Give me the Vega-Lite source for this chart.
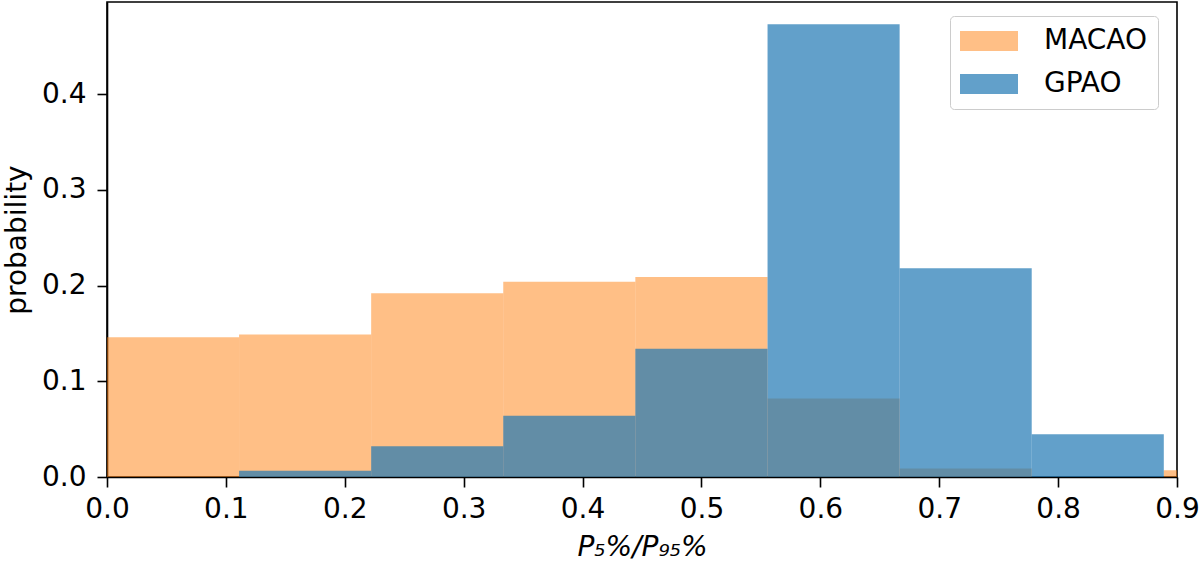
{
  "$schema": "https://vega.github.io/schema/vega-lite/v6.json",
  "width": 1070,
  "height": 475,
  "autosize": {"type": "none"},
  "padding": {"left": 107, "top": 2, "right": 23, "bottom": 88},
  "background": "white",
  "config": {
    "font": "DejaVu Sans",
    "view": {"stroke": "black", "strokeWidth": 1.6},
    "axis": {
      "labelFont": "DejaVu Sans",
      "titleFont": "DejaVu Sans",
      "labelFontSize": 28,
      "titleFontSize": 28,
      "labelColor": "black",
      "titleColor": "black",
      "titleFontWeight": "normal",
      "domainColor": "black",
      "domainWidth": 1.6,
      "tickColor": "black",
      "tickWidth": 1.6,
      "tickSize": 10,
      "labelFlush": false,
      "grid": false
    }
  },
  "data": {
    "values": [
      {"series": "MACAO", "x0": 0.0, "x1": 0.1111, "p": 0.146},
      {"series": "MACAO", "x0": 0.1111, "x1": 0.2222, "p": 0.149},
      {"series": "MACAO", "x0": 0.2222, "x1": 0.3333, "p": 0.192},
      {"series": "MACAO", "x0": 0.3333, "x1": 0.4444, "p": 0.204},
      {"series": "MACAO", "x0": 0.4444, "x1": 0.5556, "p": 0.209},
      {"series": "MACAO", "x0": 0.5556, "x1": 0.6667, "p": 0.082},
      {"series": "MACAO", "x0": 0.6667, "x1": 0.7778, "p": 0.009},
      {"series": "MACAO", "x0": 0.7778, "x1": 0.8889, "p": 0.0},
      {"series": "MACAO", "x0": 0.8889, "x1": 1.0, "p": 0.007},
      {"series": "GPAO", "x0": 0.0, "x1": 0.1111, "p": 0.0},
      {"series": "GPAO", "x0": 0.1111, "x1": 0.2222, "p": 0.0066},
      {"series": "GPAO", "x0": 0.2222, "x1": 0.3333, "p": 0.032},
      {"series": "GPAO", "x0": 0.3333, "x1": 0.4444, "p": 0.064},
      {"series": "GPAO", "x0": 0.4444, "x1": 0.5556, "p": 0.134},
      {"series": "GPAO", "x0": 0.5556, "x1": 0.6667, "p": 0.473},
      {"series": "GPAO", "x0": 0.6667, "x1": 0.7778, "p": 0.218},
      {"series": "GPAO", "x0": 0.7778, "x1": 0.8889, "p": 0.0446},
      {"series": "GPAO", "x0": 0.8889, "x1": 1.0, "p": 0.0}
    ]
  },
  "mark": {"type": "rect", "clip": true},
  "encoding": {
    "x": {
      "field": "x0",
      "type": "quantitative",
      "scale": {"domain": [0, 0.9], "nice": false, "zero": false},
      "axis": {
        "values": [0, 0.1, 0.2, 0.3, 0.4, 0.5, 0.6, 0.7, 0.8, 0.9],
        "format": ".1f",
        "labelPadding": 8,
        "title": "P₅%/P₉₅%",
        "titleFontStyle": "italic",
        "titlePadding": 10
      }
    },
    "x2": {"field": "x1"},
    "y": {
      "field": "p",
      "type": "quantitative",
      "scale": {"domain": [0, 0.4963], "nice": false},
      "axis": {
        "values": [0, 0.1, 0.2, 0.3, 0.4],
        "format": ".1f",
        "labelPadding": 11,
        "title": "probability",
        "titlePadding": 10
      }
    },
    "y2": {"datum": 0},
    "color": {
      "field": "series",
      "type": "nominal",
      "sort": ["MACAO", "GPAO"],
      "scale": {"domain": ["MACAO", "GPAO"], "range": ["#ff7f0e", "#1f77b4"]},
      "legend": {
        "title": null,
        "orient": "none",
        "legendX": 843,
        "legendY": 14,
        "labelFont": "DejaVu Sans",
        "labelFontSize": 28,
        "labelColor": "black",
        "labelOffset": 26,
        "padding": 10,
        "clipHeight": 30,
        "rowPadding": 13,
        "strokeColor": "#cccccc",
        "fillColor": "white",
        "cornerRadius": 4,
        "symbolType": "M-1,-0.345H1V0.345H-1Z",
        "symbolSize": 3364,
        "symbolStrokeWidth": 0,
        "encode": {
          "symbols": {
            "update": {
              "opacity": {"value": 1},
              "fillOpacity": {"value": 1},
              "fill": {"signal": "datum.value === 'MACAO' ? '#ffbf86' : '#62a0cb'"}
            }
          }
        }
      }
    },
    "opacity": {
      "field": "series",
      "type": "nominal",
      "scale": {"domain": ["MACAO", "GPAO"], "range": [0.5, 0.7]},
      "legend": null
    },
    "order": {"field": "series", "sort": "descending"}
  }
}
